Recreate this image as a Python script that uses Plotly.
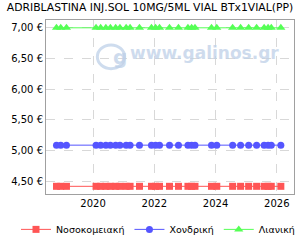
import plotly.graph_objects as go

title = "ADRIBLASTINA INJ.SOL 10MG/5ML VIAL BTx1VIAL(PP)"
dates = ["2018-10-22", "2018-12-12", "2019-02-18", "2020-02-06", "2020-04-01",
         "2020-06-02", "2020-07-26", "2020-09-27", "2020-11-17", "2021-01-30",
         "2021-03-18", "2021-07-08", "2021-11-28", "2022-01-16", "2022-03-04",
         "2022-07-01", "2022-10-16", "2023-02-06", "2023-03-22", "2023-05-01",
         "2023-11-14", "2024-01-16", "2024-07-23", "2024-10-26", "2025-01-30",
         "2025-05-05", "2025-08-03", "2025-09-19", "2025-10-27", "2026-02-18"]
n = len(dates)
hospital = [4.42] * n
wholesale = [5.09] * n
retail = [7.00] * n
series_names = ["Νοσοκομειακή", "Χονδρική", "Λιανική"]
year_ticks = ["2020-01-01", "2022-01-01", "2024-01-01", "2026-01-01"]
year_labels = ["2020", "2022", "2024", "2026"]
y_ticks = [4.5, 5.0, 5.5, 6.0, 6.5, 7.0]
y_labels = ["4,50 €", "5,00 €", "5,50 €", "6,00 €", "6,50 €", "7,00 €"]

fig = go.Figure()
styles = [("#FF5555", "square", 7), ("#5555FF", "circle", 7), ("#55FF55", "triangle-up", 8)]
for name, vals, (col, sym, sz) in zip(series_names, [hospital, wholesale, retail], styles):
    fig.add_trace(go.Scatter(x=dates, y=vals, name=name, mode="lines+markers",
                             line=dict(color=col, width=1),
                             marker=dict(color=col, symbol=sym, size=sz, line=dict(width=0))))

wm = "rgba(190,208,232,0.75)"
fig.add_annotation(text="<b>www.galinos.gr</b>", xref="paper", yref="paper",
                   x=0.64, y=0.81, yanchor="middle", showarrow=False,
                   font=dict(family="DejaVu Sans", size=17, color=wm))
fig.add_annotation(text="<b>g</b>", xref="paper", yref="paper",
                   x=0.262, y=0.79, yanchor="middle", showarrow=False,
                   font=dict(family="DejaVu Sans", size=20, color=wm))
fig.add_shape(type="circle", xref="paper", yref="paper",
              x0=0.207, x1=0.317, y0=0.72, y1=0.857,
              line=dict(color=wm, width=3))

fig.update_layout(
    width=300, height=250,
    margin=dict(l=46, r=6, t=20, b=41),
    paper_bgcolor="white", plot_bgcolor="white",
    title=dict(text=title, x=0.5, xanchor="center", y=0.985, yanchor="top",
               font=dict(family="DejaVu Sans", size=10.8, color="black")),
    font=dict(family="DejaVu Sans", size=10, color="black"),
    showlegend=True,
    legend=dict(orientation="h", x=-0.06, xanchor="left", y=-0.12, yanchor="top",
                font=dict(size=9.5), itemwidth=30, tracegroupgap=0,
                bgcolor="rgba(0,0,0,0)"),
    xaxis=dict(type="date", range=["2018-06-19", "2026-07-25"],
               tickvals=year_ticks, ticktext=year_labels,
               showgrid=True, gridcolor="#d8d8d8", griddash="dash", gridwidth=1,
               showline=True, linecolor="#a0a0a0", mirror=True, linewidth=1,
               ticks="", zeroline=False, tickfont=dict(size=10)),
    yaxis=dict(range=[4.295, 7.127], tickvals=y_ticks, ticktext=y_labels,
               showgrid=True, gridcolor="#d8d8d8", griddash="dash", gridwidth=1,
               showline=True, linecolor="#a0a0a0", mirror=True, linewidth=1,
               ticks="", zeroline=False, tickfont=dict(size=10)),
)
fig.write_html("out.html")
